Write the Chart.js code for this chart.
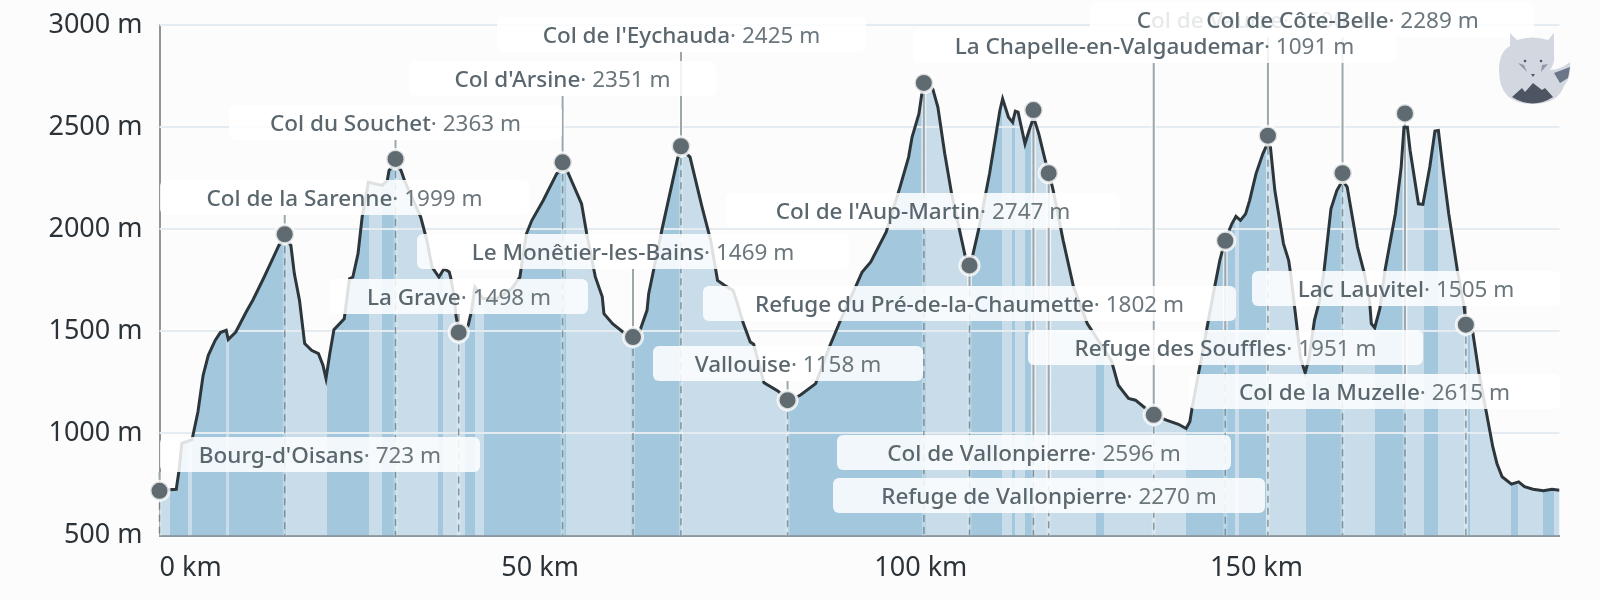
<!DOCTYPE html>
<html>
<head>
<meta charset="utf-8">
<script src="https://cdn.jsdelivr.net/npm/chart.js@4/dist/chart.umd.min.js"></script>
<style>
  html, body { margin: 0; background: #fcfcfd; }
  #wrap { position: relative; width: 1600px; height: 600px; }
  #logo { position: absolute; left: 1480px; top: 20px; width: 100px; height: 100px; }
</style>
</head>
<body>
<div id="wrap">
  <canvas id="grafica"></canvas>
  <svg id="logo" viewBox="0 0 100 100">
    <path fill="#d3d8e0" d="M30 13 L37 20 Q53 15 68 20 L74 13 L74 34 Q75 44 70 50 Q80 50 90 42 Q92 56 84 66 Q78 84 52 84 Q19 84 19 50 Q19 32 30 26 Z"/>
    <path fill="#6b7789" d="M74 53 L90 47 L88 58 L80 63 Z"/>
    <path fill="#4d5563" d="M32 77 L42 68 L45 72 L53 63 L62 70 L65 68 L73 77 Q53 90 32 77 Z"/>
    <path fill="#8f98a6" d="M38 43 L44 45 L47 52 Z M61 52 L62 45 L68 44 Z"/>
    <path fill="#4d5563" d="M51 54 L55 54 L53 57 Z"/>
    <circle fill="#4d5563" cx="45" cy="41" r="1.3"/>
    <circle fill="#4d5563" cx="61" cy="41" r="1.3"/>
  </svg>
</div>
<script>
// Profil du tour : distance en km, altitude en m
const profileKm = [0, 2.2, 2.57, 2.93, 4.28, 5.05, 5.73, 6.41, 7.31, 7.99, 8.76, 9.03, 10.02, 11.38, 12.29, 13.64, 14.77, 15.68, 16.45, 17.26, 17.71, 18.39, 19.07, 19.97, 20.88, 21.47, 21.87, 22.37, 22.91, 24.27, 24.95, 25.4, 26.08, 26.62, 27.44, 29.24, 29.92, 30.15, 30.96, 31.73, 32.18, 34.31, 35.12, 35.8, 36.7, 37.38, 38.06, 38.29, 38.74, 38.97, 39.33, 40.2, 40.55, 41.0, 41.43, 42.5, 44.3, 46.25, 47.34, 47.78, 48.2, 48.9, 50.4, 52.16, 52.96, 53.63, 55.44, 56.12, 57.25, 58.16, 58.38, 59.51, 60.87, 62.18, 63.04, 64.04, 64.26, 66.07, 68.1, 68.56, 69.69, 71.27, 72.4, 73.3, 74.21, 75.34, 75.79, 76.7, 77.6, 78.05, 79.41, 81.22, 82.58, 84.16, 86.19, 88.0, 89.36, 91.62, 92.3, 93.43, 95.46, 97.27, 98.4, 98.85, 99.76, 100.2, 100.57, 101.57, 102.25, 103.15, 104.05, 105.86, 106.36, 106.77, 107.67, 109.03, 110.39, 110.75, 111.52, 112.06, 112.42, 112.78, 113.69, 114.23, 114.82, 115.5, 116.35, 116.85, 117.4, 118.7, 120.06, 121.87, 125.03, 125.94, 127.29, 128.2, 129.55, 130.64, 132.27, 133.85, 134.85, 135.34, 135.66, 136.56, 137.7, 138.6, 139.28, 139.96, 140.86, 141.4, 141.99, 142.67, 143.2, 144.03, 144.93, 145.52, 145.93, 146.51, 147.64, 148.32, 148.64, 149.0, 149.9, 150.49, 151.03, 151.71, 152.39, 152.98, 153.88, 154.65, 155.42, 156.01, 156.69, 157.37, 158.27, 158.95, 159.18, 159.63, 160.3, 160.98, 162.34, 163.1, 163.47, 163.92, 164.28, 165.37, 165.96, 166.86, 167.54, 167.99, 168.67, 169.35, 170.48, 171.38, 171.6, 172.5, 173.33, 174.32, 175.14, 175.68, 176.36, 177.58, 178.53, 179.3, 180.43, 181.78, 182.92, 183.9];
const profileAlt = [720, 726, 820, 951, 970, 1106, 1285, 1383, 1456, 1494, 1505, 1460, 1497, 1595, 1655, 1758, 1848, 1921, 1954, 1921, 1783, 1652, 1440, 1407, 1391, 1334, 1269, 1391, 1508, 1562, 1758, 1766, 1881, 2060, 2231, 2215, 2239, 2288, 2321, 2288, 2239, 2060, 1946, 1815, 1766, 1807, 1791, 1758, 1660, 1570, 1505, 1505, 1530, 1603, 1717, 1661, 1661, 1709, 1766, 1880, 1978, 2043, 2141, 2272, 2300, 2280, 2125, 1978, 1767, 1669, 1587, 1538, 1497, 1473, 1497, 1603, 1685, 2011, 2354, 2394, 2354, 2109, 1946, 1750, 1726, 1701, 1652, 1538, 1448, 1437, 1248, 1208, 1163, 1187, 1244, 1424, 1546, 1734, 1791, 1840, 1987, 2207, 2354, 2451, 2566, 2680, 2704, 2688, 2598, 2370, 2174, 1864, 1824, 1864, 2011, 2272, 2582, 2639, 2549, 2525, 2579, 2574, 2419, 2484, 2549, 2468, 2337, 2275, 2190, 1946, 1718, 1538, 1358, 1236, 1171, 1163, 1122, 1091, 1065, 1045, 1024, 1057, 1130, 1310, 1538, 1718, 1848, 1944, 2027, 2063, 2044, 2076, 2142, 2272, 2370, 2419, 2403, 2190, 1930, 1848, 1767, 1652, 1367, 1297, 1375, 1554, 1652, 1799, 2101, 2190, 2240, 2207, 2060, 1913, 1783, 1652, 1538, 1518, 1611, 1799, 2076, 2305, 2500, 2500, 2386, 2125, 2122, 2305, 2481, 2484, 2272, 2076, 1799, 1619, 1533, 1497, 1293, 1098, 934, 853, 788, 752, 763, 739, 727, 719, 726, 722];

// Bandes claires sous le profil (debut et fin en km)
const lightStart = [0, 3.78, 8.71, 16.58, 27.53, 31.05, 37.29, 41.45, 53.41, 68.56, 100.75, 110.73, 112.38, 114.84, 124.03, 141.3, 145.38, 155.42, 163.7, 168.0, 172.15, 178.48, 183.23];
const lightEnd = [1.34, 4.24, 9.08, 22.01, 29.24, 36.57, 40.19, 42.58, 62.0, 82.58, 106.32, 112.04, 113.75, 123.07, 134.8, 141.85, 150.58, 159.72, 166.05, 171.83, 177.58, 181.78, 183.9];

// Etapes : nom, altitude affichee, position du point
const stopNames = ["Bourg-d'Oisans", "Col de la Sarenne", "Col du Souchet", "La Grave", "Col d'Arsine", "Le Monêtier-les-Bains", "Col de l'Eychauda", "Vallouise", "Col de l'Aup-Martin", "Refuge du Pré-de-la-Chaumette", "Col de Vallonpierre", "Refuge de Vallonpierre", "Refuge des Souffles", "Col de Vaurze", "Col de Côte-Belle", "Col de la Muzelle", "Lac Lauvitel", "La Chapelle-en-Valgaudemar"];
const stopShown = [723, 1999, 2363, 1498, 2351, 1469, 2425, 1158, 2747, 1802, 2596, 2270, 1951, 2500, 2289, 2615, 1505, 1091];
const stopKm = [0, 16.45, 31.0, 39.3, 52.95, 62.2, 68.5, 82.5, 100.4, 106.4, 114.8, 116.8, 140.0, 145.6, 155.4, 163.6, 171.6, 130.6];
const stopAlt = [719, 1976, 2345, 1495, 2328, 1472, 2407, 1163, 2717, 1823, 2584, 2275, 1944, 2459, 2275, 2568, 1533, 1091];

const altTicks = [500, 1000, 1500, 2000, 2500, 3000];
const kmTicks = [0, 50, 100, 144.1, 183.9];
const kmTickLabels = ['0 km', '50 km', '100 km', '150 km', ''];

// Cadres des etiquettes en pixels : gauche, haut, droite
const labelBoxes = [
    [160, 437, 480], [160, 180, 529], [229, 105, 562], [330, 279, 588], [409, 61, 716],
    [417, 234, 849], [497, 17, 866], [653, 346, 923], [726, 193, 1120], [703, 286, 1236],
    [837, 435, 1231], [833, 478, 1265], [1028, 330, 1423], [1090, 2, 1420], [1151, 2, 1534],
    [1189, 374, 1560], [1252, 271, 1560], [913, 28, 1396]
];
const labelHeight = 35;

const DARK = '#a3c8dd';
const LIGHT = '#c8dde9';
const NAME_FONT = '500 22.5px "Noto Sans"';
const VALUE_FONT = '400 22.5px "Noto Sans"';

// Degrade a paliers pour les bandes, place avec l'echelle x
function stripes(context) {
    const chart = context.chart;
    if (!chart.chartArea) return DARK;
    const x = chart.scales.x;
    const x0 = x.getPixelForValue(x.min), x1 = x.getPixelForValue(x.max);
    const g = chart.ctx.createLinearGradient(x0, 0, x1, 0);
    const pos = v => Math.min(1, Math.max(0, (x.getPixelForValue(v) - x0) / (x1 - x0)));
    let prev = 0;
    lightStart.forEach((s, i) => {
        const a = pos(s), b = pos(lightEnd[i]);
        g.addColorStop(prev, DARK);
        g.addColorStop(a, DARK);
        g.addColorStop(a, LIGHT);
        g.addColorStop(b, LIGHT);
        g.addColorStop(b, DARK);
        prev = b;
    });
    g.addColorStop(1, DARK);
    return g;
}

const decor = {
    id: 'decor',
    // Juste apres le remplissage et avant la ligne du profil
    beforeDatasetDraw(chart, args) {
        if (args.index !== 0) return;
        const { ctx, chartArea, scales: { x, y } } = chart;
        ctx.save();
        ctx.strokeStyle = '#e4ebf1';
        ctx.lineWidth = 2;
        altTicks.slice(1).forEach(v => {
            const py = Math.round(y.getPixelForValue(v));
            ctx.beginPath();
            ctx.moveTo(chartArea.left, py);
            ctx.lineTo(chartArea.right, py);
            ctx.stroke();
        });
        stopKm.forEach((km, i) => {
            const px = x.getPixelForValue(km), py = y.getPixelForValue(stopAlt[i]);
            // pointilles jusqu'a l'axe
            ctx.setLineDash([]);
            ctx.strokeStyle = 'rgba(255,255,255,0.25)';
            ctx.lineWidth = 4;
            ctx.beginPath();
            ctx.moveTo(px, py);
            ctx.lineTo(px, chartArea.bottom);
            ctx.stroke();
            ctx.setLineDash([7, 5]);
            ctx.strokeStyle = 'rgba(95,107,113,0.65)';
            ctx.lineWidth = 1.5;
            ctx.beginPath();
            ctx.moveTo(px, py);
            ctx.lineTo(px, chartArea.bottom);
            ctx.stroke();
            // trait plein vers l'etiquette
            const box = labelBoxes[i];
            const end = box[1] > py ? box[1] : box[1] + labelHeight;
            ctx.setLineDash([]);
            ctx.strokeStyle = 'rgba(255,255,255,0.6)';
            ctx.lineWidth = 5;
            ctx.beginPath();
            ctx.moveTo(px, py);
            ctx.lineTo(px, end);
            ctx.stroke();
            ctx.strokeStyle = '#9ca6ab';
            ctx.lineWidth = 2;
            ctx.stroke();
        });
        ctx.restore();
    },
    afterDatasetsDraw(chart) {
        const ctx = chart.ctx;
        ctx.save();
        ctx.textBaseline = 'middle';
        ctx.textAlign = 'left';
        stopNames.forEach((name, i) => {
            const [left, top, right] = labelBoxes[i];
            ctx.fillStyle = 'rgba(255,255,255,0.85)';
            ctx.beginPath();
            ctx.roundRect(left, top, right - left, labelHeight, 6);
            ctx.fill();
            const value = '· ' + stopShown[i] + ' m';
            ctx.font = NAME_FONT;
            const w1 = ctx.measureText(name).width;
            ctx.font = VALUE_FONT;
            const w2 = ctx.measureText(value).width;
            const tx = (left + right) / 2 - (w1 + w2) / 2;
            const ty = top + labelHeight / 2 + 2.5;
            ctx.font = NAME_FONT;
            ctx.fillStyle = '#5a676e';
            ctx.fillText(name, tx, ty);
            ctx.font = VALUE_FONT;
            ctx.fillStyle = '#6b777d';
            ctx.fillText(value, tx + w1, ty);
        });
        ctx.restore();
    }
};

new Chart(document.getElementById('grafica'), {
    type: 'line',
    data: {
        datasets: [{
            data: profileKm.map((km, i) => ({ x: km, y: profileAlt[i] })),
            borderColor: '#2d363b',
            borderWidth: 3,
            backgroundColor: stripes,
            fill: 'start',
            pointRadius: 0,
            tension: 0,
            order: 1
        }, {
            data: stopKm.map((km, i) => ({ x: km, y: stopAlt[i] })),
            showLine: false,
            pointRadius: 9.5,
            pointBorderWidth: 3,
            pointBackgroundColor: '#5f6b71',
            pointBorderColor: 'rgba(255,255,255,0.8)',
            clip: false,
            order: 0
        }]
    },
    options: {
        animation: false,
        responsive: true,
        maintainAspectRatio: false,
        layout: { padding: { top: 24.5, right: 40.5 } },
        plugins: { legend: { display: false }, tooltip: { enabled: false } },
        scales: {
            x: {
                type: 'linear',
                min: 0,
                max: 183.9,
                afterBuildTicks: scale => { scale.ticks = kmTicks.map(v => ({ value: v })); },
                afterFit: scale => { scale.height = 64.5; },
                grid: { display: false },
                border: { color: '#8d969c', width: 2 },
                ticks: {
                    autoSkip: false,
                    maxRotation: 0,
                    align: 'inner',
                    padding: 9,
                    color: '#2b3338',
                    font: { family: '"Noto Sans"', size: 27 },
                    callback: (v, i) => kmTickLabels[i]
                }
            },
            y: {
                min: 500,
                max: 3000,
                afterFit: scale => { scale.width = 159.5; },
                grid: { display: false },
                border: { color: '#8d969c', width: 2 },
                ticks: {
                    stepSize: 500,
                    padding: 9,
                    color: '#2b3338',
                    font: { family: '"Noto Sans"', size: 27 },
                    callback: v => v + ' m'
                }
            }
        }
    },
    plugins: [decor]
});
</script>
</body>
</html>
